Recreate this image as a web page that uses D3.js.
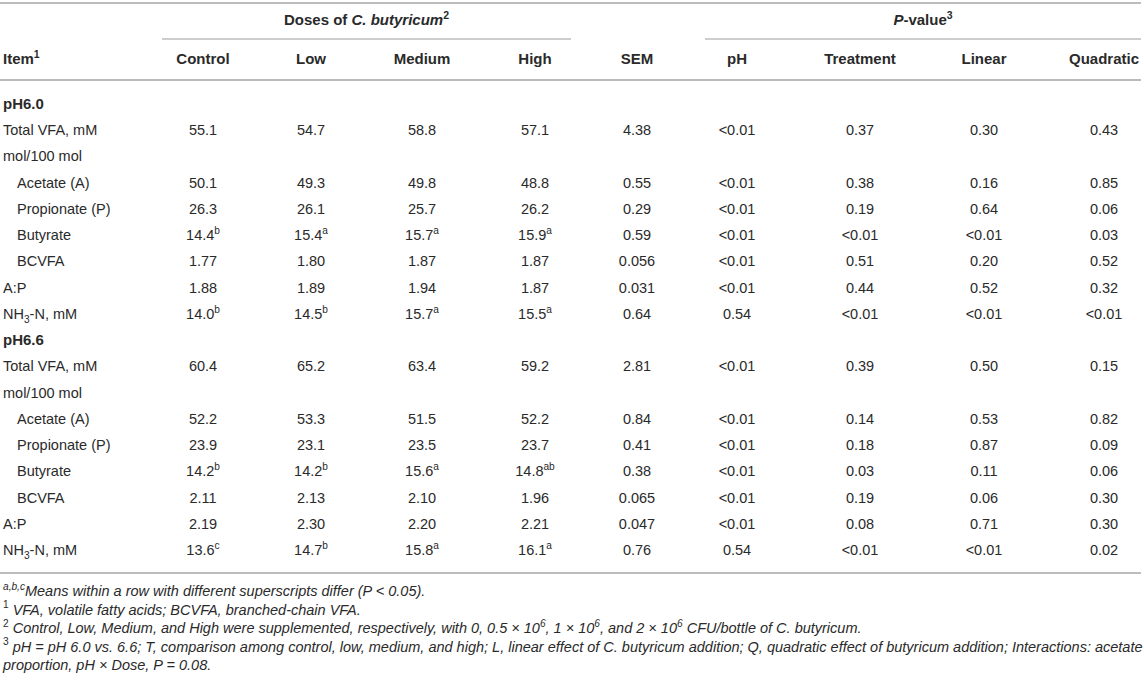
<!DOCTYPE html>
<html>
<head>
<meta charset="utf-8">
<script src="https://cdn.jsdelivr.net/npm/d3@7"></script>
<style>
  body { margin: 0; background: #fff; }
  svg { display: block; font-family: "Liberation Sans", Arial, Helvetica, sans-serif; }
</style>
</head>
<body>
<svg id="chart" width="1144" height="684"></svg>
<script>
// markup: ^{..} superscript, _{..} subscript, *..* italic
const columns = ['Control', 'Low', 'Medium', 'High', 'SEM', 'pH', 'Treatment', 'Linear', 'Quadratic'];
const spanners = ['Doses of *C. butyricum*^{2}', '*P*-value^{3}'];
const groups = ['pH6.0', 'pH6.6'];
const items = ['Total VFA, mM', 'mol/100 mol', 'Acetate (A)', 'Propionate (P)', 'Butyrate', 'BCVFA', 'A:P', 'NH_{3}-N, mM'];
const indented = [false, false, true, true, true, true, false, false];

const ph60Values = [
  ['55.1', '54.7', '58.8', '57.1', '4.38', '<0.01', '0.37', '0.30', '0.43'],
  [],
  ['50.1', '49.3', '49.8', '48.8', '0.55', '<0.01', '0.38', '0.16', '0.85'],
  ['26.3', '26.1', '25.7', '26.2', '0.29', '<0.01', '0.19', '0.64', '0.06'],
  ['14.4^{b}', '15.4^{a}', '15.7^{a}', '15.9^{a}', '0.59', '<0.01', '<0.01', '<0.01', '0.03'],
  ['1.77', '1.80', '1.87', '1.87', '0.056', '<0.01', '0.51', '0.20', '0.52'],
  ['1.88', '1.89', '1.94', '1.87', '0.031', '<0.01', '0.44', '0.52', '0.32'],
  ['14.0^{b}', '14.5^{b}', '15.7^{a}', '15.5^{a}', '0.64', '0.54', '<0.01', '<0.01', '<0.01'],
];
const ph66Values = [
  ['60.4', '65.2', '63.4', '59.2', '2.81', '<0.01', '0.39', '0.50', '0.15'],
  [],
  ['52.2', '53.3', '51.5', '52.2', '0.84', '<0.01', '0.14', '0.53', '0.82'],
  ['23.9', '23.1', '23.5', '23.7', '0.41', '<0.01', '0.18', '0.87', '0.09'],
  ['14.2^{b}', '14.2^{b}', '15.6^{a}', '14.8^{ab}', '0.38', '<0.01', '0.03', '0.11', '0.06'],
  ['2.11', '2.13', '2.10', '1.96', '0.065', '<0.01', '0.19', '0.06', '0.30'],
  ['2.19', '2.30', '2.20', '2.21', '0.047', '<0.01', '0.08', '0.71', '0.30'],
  ['13.6^{c}', '14.7^{b}', '15.8^{a}', '16.1^{a}', '0.76', '0.54', '<0.01', '<0.01', '0.02'],
];

const footnotes = [
  '*^{a,b,c}Means within a row with different superscripts differ (P < 0.05).*',
  '^{1} *VFA, volatile fatty acids; BCVFA, branched-chain VFA.*',
  '^{2} *Control, Low, Medium, and High were supplemented, respectively, with 0, 0.5 × 10^{6}, 1 × 10^{6}, and 2 × 10^{6} CFU/bottle of C. butyricum.*',
  '^{3} *pH = pH 6.0 vs. 6.6; T, comparison among control, low, medium, and high; L, linear effect of C. butyricum addition; Q, quadratic effect of butyricum addition; Interactions: acetate*',
  '*proportion, pH × Dose, P = 0.08.*',
];

// layout
const colX = [203, 311, 422, 535, 637, 737, 860, 984, 1104];
const spanX = [[162, 571], [705, 1141]];
const lineColor = '#bcbcbc';
const textColor = '#2a2a2a';
const fs = 14.5;
const hfs = 15;

const svg = d3.select('#chart');
const x = d3.scaleOrdinal().domain(columns).range(colX);

// one flat list of body rows
const rows = [];
groups.forEach((g, gi) => {
  rows.push({label: g, group: true, values: []});
  const vals = gi === 0 ? ph60Values : ph66Values;
  items.forEach((it, i) => {
    rows.push({label: it, indent: indented[i], values: vals[i]});
  });
});
const y = d3.scaleLinear().domain([0, rows.length - 1]).range([104, 550]);

function parse(str) {
  const segs = [];
  let italic = false;
  const re = /\^\{([^}]*)\}|_\{([^}]*)\}|(\*)|([^\^_*]+)/g;
  let m;
  while ((m = re.exec(str)) !== null) {
    if (m[3]) { italic = !italic; continue; }
    if (m[1] !== undefined) segs.push({t: m[1], shift: -1, italic});
    else if (m[2] !== undefined) segs.push({t: m[2], shift: 1, italic});
    else segs.push({t: m[4], shift: 0, italic});
  }
  return segs;
}

function rich(text, str, size) {
  let cur = 0;
  parse(str).forEach((s) => {
    const target = s.shift < 0 ? -size * 0.42 : s.shift > 0 ? size * 0.3 : 0;
    text.append('tspan')
      .attr('dy', target - cur)
      .attr('font-size', s.shift ? size * 0.7 : size)
      .attr('font-style', s.italic ? 'italic' : 'normal')
      .text(s.t);
    cur = target;
  });
}

// rules
const hr = [
  {x1: 0, x2: 1141, y: 3, w: 2},
  {x1: spanX[0][0], x2: spanX[0][1], y: 39, w: 1.5},
  {x1: spanX[1][0], x2: spanX[1][1], y: 39, w: 1.5},
  {x1: 0, x2: 1141, y: 80, w: 2},
  {x1: 0, x2: 1141, y: 573, w: 2},
];
svg.selectAll('line.rule')
  .data(hr)
  .enter()
  .append('line')
  .attr('class', 'rule')
  .attr('x1', d => d.x1)
  .attr('x2', d => d.x2)
  .attr('y1', d => d.y)
  .attr('y2', d => d.y)
  .attr('stroke', lineColor)
  .attr('stroke-width', d => d.w);

// header
svg.selectAll('text.span')
  .data(spanners)
  .enter()
  .append('text')
  .attr('class', 'span')
  .attr('x', (d, i) => (spanX[i][0] + spanX[i][1]) / 2)
  .attr('y', 25)
  .attr('text-anchor', 'middle')
  .attr('font-weight', 'bold')
  .attr('fill', textColor)
  .each(function(d) { rich(d3.select(this), d, hfs); });

svg.append('text')
  .attr('x', 3)
  .attr('y', 64)
  .attr('font-weight', 'bold')
  .attr('fill', textColor)
  .each(function() { rich(d3.select(this), 'Item^{1}', hfs); });

svg.selectAll('text.col')
  .data(columns)
  .enter()
  .append('text')
  .attr('class', 'col')
  .attr('x', d => x(d))
  .attr('y', 64)
  .attr('text-anchor', 'middle')
  .attr('font-weight', 'bold')
  .attr('font-size', hfs)
  .attr('fill', textColor)
  .text(d => d);

// body
const rowG = svg.selectAll('g.row')
  .data(rows)
  .enter()
  .append('g')
  .attr('class', 'row')
  .attr('transform', (d, i) => `translate(0,${y(i) + 5})`);

rowG.append('text')
  .attr('x', d => d.indent ? 17 : 3)
  .attr('font-weight', d => d.group ? 'bold' : 'normal')
  .attr('fill', textColor)
  .each(function(d) { rich(d3.select(this), d.label, d.group ? hfs : fs); });

rowG.selectAll('text.cell')
  .data(d => d.values)
  .enter()
  .append('text')
  .attr('class', 'cell')
  .attr('x', (d, i) => x(columns[i]))
  .attr('text-anchor', 'middle')
  .attr('fill', textColor)
  .each(function(d) { rich(d3.select(this), d, fs); });

// footnotes
svg.selectAll('text.note')
  .data(footnotes)
  .enter()
  .append('text')
  .attr('class', 'note')
  .attr('x', 3)
  .attr('y', (d, i) => 596 + i * 18.5)
  .attr('fill', textColor)
  .each(function(d) { rich(d3.select(this), d, 14.5); });
</script>
</body>
</html>
